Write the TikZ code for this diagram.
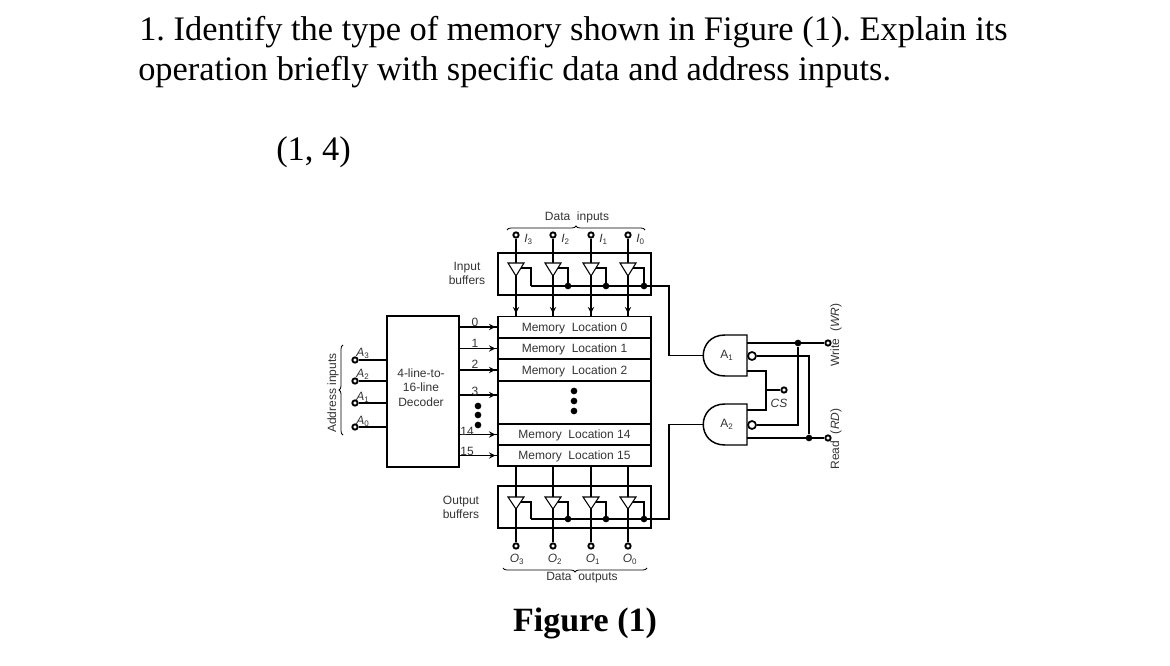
\documentclass[tikz,border=0pt]{standalone}
\usepackage{fontspec}
\setmainfont{Liberation Serif}
\setsansfont{Liberation Sans}
\usetikzlibrary{decorations.pathreplacing,decorations.markings}
\tikzset{
    wire/.style={line width=1.1pt},
    thinwire/.style={line width=0.8pt},
    arrowwire/.style={line width=1.1pt, postaction=decorate, decoration={markings, mark=at position -2pt with {\arrow{stealth}}}},
    labfont/.style={inner sep=0pt, text=black!80, font=\fontsize{9}{10.8}\selectfont\sffamily, align=center},
    lab/.style={labfont, yshift=-1pt},
    headline/.style={anchor=base west, inner sep=0pt, font=\fontsize{25.8}{30}\selectfont\frenchspacing},
    terminal/.style={circle, draw, line width=1.4pt, fill=white, inner sep=0pt, minimum size=4pt},
    joint/.style={circle, fill=black, inner sep=0pt, minimum size=5pt},
    memrow/.style={rectangle, draw, line width=1.1pt, minimum width=114.75pt, minimum height=16pt, inner sep=0pt, outer sep=0pt, labfont, text height=6.5pt, text depth=0pt},
    bufferbox/.style={rectangle, draw, line width=1.1pt, minimum width=114.75pt, minimum height=31.5pt, outer sep=0pt},
    gatebody/.style={rectangle, minimum width=33pt, minimum height=30.75pt, inner sep=0pt, outer sep=0pt, labfont},
    bubble/.style={circle, draw, line width=1.3pt, fill=white, inner sep=0pt, minimum size=6pt},
    brace/.style={decorate, decoration={brace, amplitude=3pt}, line width=0.6pt},
}
\begin{document}
\begin{tikzpicture}[x=0.75pt, y=-0.75pt]
    \useasboundingbox (0,0) rectangle (1170,666);

    % question text
    \node[headline] (Q1) at (139,41) {1. Identify the type of memory shown in Figure (1). Explain its};
    \node[headline] (Q2) at (138,81) {operation briefly with specific data and address inputs.};
    \node[headline] (Q3) at (276,161) {(1, 4)};
    \node[headline, font=\fontsize{25.5}{30}\selectfont\bfseries, anchor=base] (Cap) at (585,631) {Figure (1)};

    % decoder and memory
    \node[rectangle, draw, wire, minimum width=54pt, minimum height=113.25pt, outer sep=0pt, inner sep=0pt] (Dec) at (423,391.5) {};
    \node[lab] (DecText) at (421,386) {4-line-to-\\16-line\\Decoder};
    \node[memrow] (M0) at (574.5,327) {Memory\ \ Location 0};
    \node[memrow] (M1) at (574.5,348.5) {Memory\ \ Location 1};
    \node[memrow] (M2) at (574.5,370) {Memory\ \ Location 2};
    \node[memrow, minimum height=32.25pt] (Mx) at (574.5,402.5) {};
    \node[memrow] (M14) at (574.5,434.5) {Memory\ \ Location 14};
    \node[memrow] (M15) at (574.5,455.5) {Memory\ \ Location 15};
    \coordinate (M3) at (498,395);
    \foreach \y [count=\i] in {391,401,411} \node[joint] (Md\i) at (574,\y) {};
    \foreach \y [count=\i] in {406,415,425} \node[joint] (Dd\i) at (478,\y) {};

    % decoder outputs
    \foreach \m/\t/\lx/\ly in {M0/0/475/321, M1/1/475/342, M2/2/475/363, M3/3/475/390, M14/14/467/430, M15/15/467/450} {
        \draw[arrowwire] (Dec.east |- \m) -- (\m -| M0.west);
        \node[lab] (Out\m) at (\lx,\ly) {\t};
    }

    % address inputs
    \foreach \i/\y/\ly in {3/360/352, 2/381/373, 1/403/396, 0/427/420} {
        \node[terminal] (Ad\i) at (355,\y) {};
        \node[lab] (AdL\i) at (363,\ly) {\textit{A}\textsubscript{\i}};
        \draw[wire] (Ad\i) -- (Dec.west |- Ad\i);
    }
    \draw[brace] (343,435) -- (343,345);
    \node[labfont, rotate=90] (AdText) at (333,393) {Address inputs};

    % buffers
    \node[bufferbox] (InBox) at (574.5,274) {};
    \node[bufferbox] (OutBox) at (574.5,507) {};
    \node[lab] (InText) at (467,272) {Input\\buffers};
    \node[lab] (OutText) at (461,506) {Output\\buffers};
    \node[lab] (DataIn) at (577,216) {Data\ \ inputs};
    \node[lab] (DataOut) at (582,576) {Data\ \ outputs};
    \draw[brace] (507,230) -- (645,230);
    \draw[brace] (647,568) -- (503,568);

    \foreach \x/\n/\b/\ox in {516/3/531/517, 553/2/568/555, 591/1/606/593, 628/0/644/630} {
        \node[terminal] (I\n) at (\x,235) {};
        \node[terminal] (O\n) at (\x,546) {};
        \node[lab] (IL\n) at (\x+12.5,238) {\textit{I}\textsubscript{\n}};
        \node[lab] (OL\n) at (\ox,558) {\textit{O}\textsubscript{\n}};
        \coordinate (BI\n) at (\x,263);
        \coordinate (BO\n) at (\x,497);
        \coordinate (TI\n) at (\x,276);
        \coordinate (TO\n) at (\x,509);
        \draw[wire] (I\n) -- (BI\n);
        \draw[arrowwire] (TI\n) -- (\x,316);
        \draw[wire] (\x,466) -- (BO\n);
        \draw[wire] (TO\n) -- (O\n);
        \draw[thinwire, fill=white] (BI\n) ++(-8,0) -- ++(16,0) -- (TI\n) -- cycle;
        \draw[thinwire, fill=white] (BO\n) ++(-8,0) -- ++(16,0) -- (TO\n) -- cycle;
        \draw[thinwire] (\x+5,268) -| (\b,286);
        \draw[thinwire] (\x+5,502) -| (\b,519);
    }
    \foreach \b [count=\i] in {568,606,644} {
        \node[joint] (JI\i) at (\b,286) {};
        \node[joint] (JO\i) at (\b,519) {};
    }

    % gates
    \node[gatebody] (A1) at (725,355.5) {\hspace*{3pt}A\textsubscript{1}};
    \node[gatebody] (A2) at (725,424.5) {\hspace*{3pt}A\textsubscript{2}};
    \foreach \g in {A1,A2}
        \draw[wire] (\g.north) .. controls +(-29,0) and +(-29,0) .. (\g.south) -- (\g.south east) -- (\g.north east) -- cycle;
    \node[bubble] (B1) at (752,356) {};
    \node[bubble] (B2) at (752,425) {};

    \node[terminal] (WR) at (828,343) {};
    \node[terminal] (RD) at (828,438) {};
    \node[terminal] (CS) at (784,390) {};
    \node[joint] (JW) at (798,343) {};
    \node[joint] (JR) at (809,438) {};
    \coordinate (CS1) at (766,371);
    \coordinate (CS2) at (766,410);
    \coordinate (CSm) at (766,390);
    \draw[wire] (A1.east |- WR) -- (WR);
    \draw[wire] (A2.east |- RD) -- (RD);
    \draw[wire] (B1) -| (JR);
    \draw[wire] (B2) -| (JW);
    \draw[thinwire] (A1.east |- CS1) -- (CS1) -- (CS2) -- (A2.east |- CS2);
    \draw[thinwire] (CSm) -- (CS);
    \node[lab] (CSText) at (779,402) {\textit{CS}};
    \node[labfont, rotate=90] (WRText) at (836,335) {Write\ \ (\textit{WR})};
    \node[labfont, rotate=90] (RDText) at (836,439) {Read\ \ (\textit{RD})};

    % enable lines
    \coordinate (Bus1) at (669,286);
    \coordinate (Bus2) at (669,519);
    \draw[wire] (531,286) -- (Bus1) |- (A1.west);
    \draw[wire] (531,519) -- (Bus2) |- (A2.west);
\end{tikzpicture}
\end{document}
